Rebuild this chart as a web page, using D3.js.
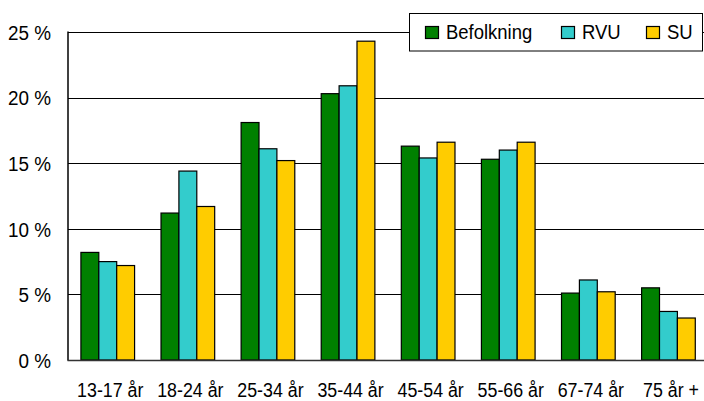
<!DOCTYPE html>
<html>
<head>
<meta charset="utf-8">
<script src="https://cdn.jsdelivr.net/npm/d3@7"></script>
<style>
  html, body { margin: 0; padding: 0; background: #fff; }
  svg text { font-family: "Liberation Sans", Arial, sans-serif; fill: #000; }
</style>
</head>
<body>
<svg id="chart" width="704" height="401"></svg>
<script>
const categories = ["13-17 år", "18-24 år", "25-34 år", "35-44 år", "45-54 år", "55-66 år", "67-74 år", "75 år +"];
const seriesNames = ["Befolkning", "RVU", "SU"];
const befolkning = [8.2, 11.2, 18.1, 20.3, 16.3, 15.3, 5.1, 5.5];
const rvu = [7.5, 14.4, 16.1, 20.9, 15.4, 16.0, 6.1, 3.7];
const su = [7.2, 11.7, 15.2, 24.3, 16.6, 16.6, 5.2, 3.2];
const yTicks = [0, 5, 10, 15, 20, 25];
const colors = ["#008000", "#33CCCC", "#FFCC00"];

const seriesValues = [befolkning, rvu, su];
const svg = d3.select("#chart");

const x = d3.scaleBand().domain(categories).range([67.7, 708.5]).paddingInner(0.33).paddingOuter(0.165);
const xs = d3.scaleBand().domain(seriesNames).range([0, x.bandwidth()]);
const y = d3.scaleLinear().domain([0, 25]).range([360, 32]);

// gridlines
svg.append("g").selectAll("line").data(yTicks.filter(d => d > 0)).join("line")
  .attr("x1", 68).attr("x2", 704)
  .attr("y1", d => Math.round(y(d)) + 0.5).attr("y2", d => Math.round(y(d)) + 0.5)
  .attr("stroke", "#000").attr("stroke-width", 1);

// y axis
const yAxis = d3.axisLeft(y).tickValues(yTicks).tickSize(0).tickPadding(0).tickFormat(d => d + " %");
const gy = svg.append("g").attr("transform", "translate(68.5,0)").call(yAxis);
gy.select(".domain").remove();
gy.selectAll("text").attr("font-size", 21).attr("font-family", null).attr("dy", "0.35em")
  .attr("x", 0).attr("transform", "translate(-17.5,0) scale(0.9,1)");

// bars
const groups = svg.append("g").selectAll("g").data(categories).join("g")
  .attr("transform", d => `translate(${x(d)},0)`);
groups.selectAll("rect").data((c, i) => seriesNames.map((s, j) => ({s, v: seriesValues[j][i], j}))).join("rect")
  .attr("x", d => xs(d.s))
  .attr("width", xs.bandwidth())
  .attr("y", d => y(d.v))
  .attr("height", d => y(0) - y(d.v))
  .attr("fill", d => colors[d.j])
  .attr("stroke", "#000").attr("stroke-width", 1.2);

// axes lines
svg.append("line").attr("x1", 68).attr("x2", 68).attr("y1", 31.5).attr("y2", 360.5).attr("stroke", "#000").attr("stroke-width", 1.5);
svg.append("line").attr("x1", 67.5).attr("x2", 704).attr("y1", 360.5).attr("y2", 360.5).attr("stroke", "#333").attr("stroke-width", 1.5);

// x axis labels
const xAxis = d3.axisBottom(x).tickSize(0).tickPadding(0);
const gx = svg.append("g").attr("transform", "translate(2.5,396.5)").call(xAxis);
gx.select(".domain").remove();
gx.selectAll("text").attr("font-size", 20).attr("font-family", null).attr("dy", 0).attr("y", 0)
  .attr("transform", "scale(0.89,1)");

// legend
const lg = svg.append("g");
lg.append("rect").attr("x", 409.5).attr("y", 13.5).attr("width", 293).attr("height", 37.5)
  .attr("fill", "#fff").attr("stroke", "#000").attr("stroke-width", 1);
const legendX = [425.5, 561.5, 646.5];
seriesNames.forEach((s, j) => {
  lg.append("rect").attr("x", legendX[j]).attr("y", 26.5).attr("width", 13).attr("height", 12)
    .attr("fill", colors[j]).attr("stroke", "#000").attr("stroke-width", 1.2);
  lg.append("text").attr("transform", `translate(${legendX[j] + 20.5},38.5) scale(0.88,1)`)
    .attr("font-size", 21).text(s);
});
</script>
</body>
</html>
